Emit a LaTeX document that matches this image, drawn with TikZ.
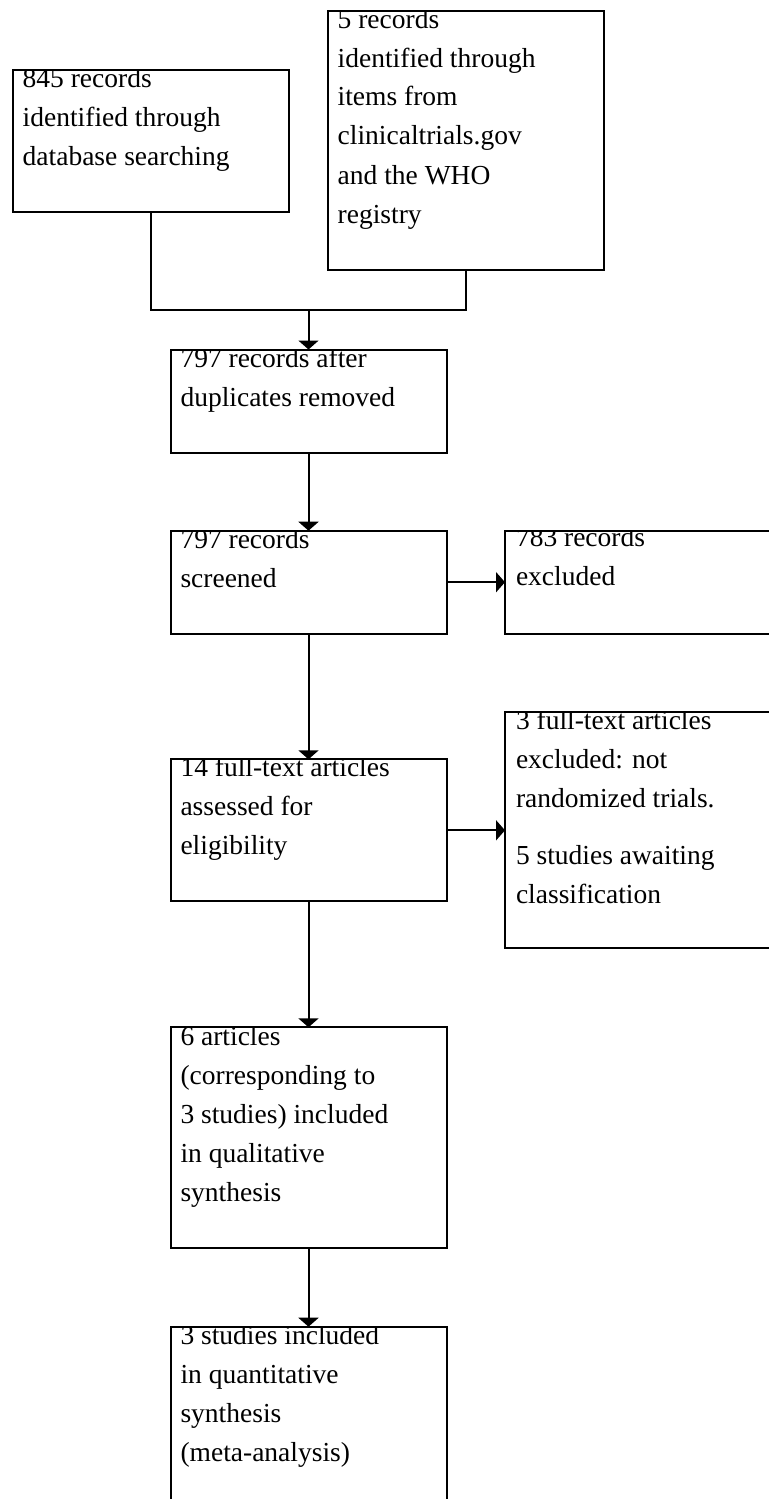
\documentclass[tikz,border=0pt]{standalone}
\usepackage{fontspec}
\setmainfont{Liberation Serif}
\usetikzlibrary{arrows.meta,calc}
\tikzset{
  box/.style={draw=black, line width=1pt, rectangle, anchor=north west, minimum width=138pt, inner sep=0pt, outer sep=0pt},
  txt/.style={anchor=base west, inner sep=0pt, outer sep=0pt, font=\fontsize{13.75pt}{19.5pt}\selectfont},
  conn/.style={draw=black, line width=1pt},
  arr/.style={conn, -{Triangle[length=4.5pt,width=10pt]}}
}
\newcommand{\boxtext}[1]{\parbox[t]{134pt}{\raggedright #1}}
\newcommand{\clippedtext}[4]{%
  \begin{scope}
    \clip (#2.north west) rectangle (#2.south east);
    \node[txt] (#1) at ([shift={#3}]#2.north west) {\boxtext{#4}};
  \end{scope}}
\begin{document}
\begin{tikzpicture}[x=0.5pt,y=-0.5pt]
\useasboundingbox (0,0) rectangle (769,1499);
\clip (0,0) rectangle (769,1499);
\fill[white] (0,0) rectangle (769,1499);
% boxes
\node[box, minimum height=71pt]    (b1) at (12.7,70) {};
\node[box, minimum height=129.5pt] (b2) at (327.7,11) {};
\node[box, minimum height=51.5pt]  (b3) at (170.5,349.5) {};
\node[box, minimum height=51.5pt]  (b4) at (170.5,530.7) {};
\node[box, minimum height=51.5pt]  (b5) at (505,530.7) {};
\node[box, minimum height=71pt]    (b6) at (170.5,759.3) {};
\node[box, minimum height=118pt]   (b7) at (505,711.7) {};
\node[box, minimum height=110.5pt] (b8) at (170.5,1027.3) {};
\node[box, minimum height=90.5pt]  (b9) at (170.5,1326.7) {};
% texts
\clippedtext{t1}{b1}{(10,17)}{845 records\\identified through\\database searching}
\clippedtext{t2}{b2}{(10,17)}{5 records\\identified through\\items from\\clinicaltrials.gov\\and the WHO\\registry}
\clippedtext{t3}{b3}{(10,18)}{797 records after\\duplicates removed}
\clippedtext{t4}{b4}{(10,18)}{797 records\\screened}
\clippedtext{t5}{b5}{(11,16)}{783 records\\excluded}
\clippedtext{t6}{b6}{(10,17)}{14 full-text articles\\assessed for\\eligibility}
\clippedtext{t7}{b7}{(11,18)}{3 full-text articles\\excluded: not\\randomized trials.\\[9pt]5 studies awaiting\\classification}
\clippedtext{t8}{b8}{(10,18)}{6 articles\\(corresponding to\\3 studies) included\\in qualitative\\synthesis}
\clippedtext{t9}{b9}{(10,18)}{3 studies included\\in quantitative\\synthesis\\(meta-analysis)}
% connectors
\coordinate (j) at (b3.north |- 0,310);
\draw[conn] (b1.south) |- (j);
\draw[conn] (b2.south) |- (j);
\draw[arr] (j) -- (b3.north);
\draw[arr] (b3.south) -- (b4.north);
\draw[arr] (b4.east) -- (b4.east -| b5.west);
\draw[arr] (b4.south) -- (b6.north);
\draw[arr] (b6.east) -- (b6.east -| b7.west);
\draw[arr] (b6.south) -- (b8.north);
\draw[arr] (b8.south) -- (b9.north);
\end{tikzpicture}
\end{document}
